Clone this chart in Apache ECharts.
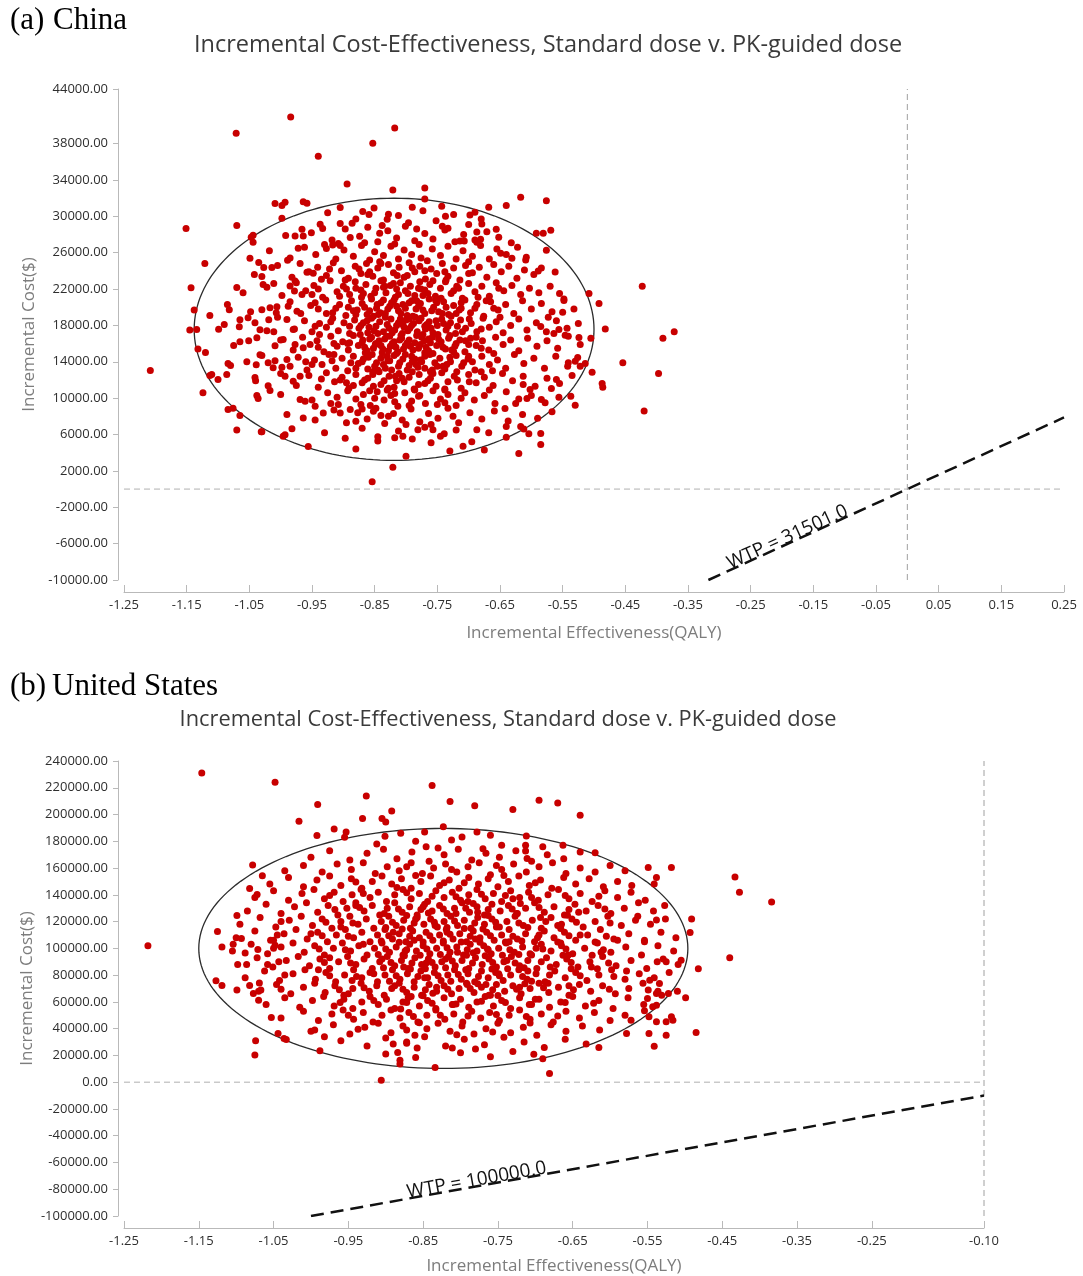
<!DOCTYPE html>
<html><head><meta charset="utf-8">
<script src="https://cdn.jsdelivr.net/npm/echarts@6/dist/echarts.min.js"></script>
<style>html,body{margin:0;padding:0;background:#fff}#c{width:1083px;height:1276px}</style>
</head><body><div id="c"></div>
<script>
const titleText = 'Incremental Cost-Effectiveness, Standard dose v. PK-guided dose';
const xName = 'Incremental Effectiveness(QALY)';
const yName = 'Incremental Cost($)';
const chinaXTicks = [-1.25,-1.15,-1.05,-0.95,-0.85,-0.75,-0.65,-0.55,-0.45,-0.35,-0.25,-0.15,-0.05,0.05,0.15,0.25];
const chinaYTicks = [-10000,-6000,-2000,2000,6000,10000,14000,18000,22000,26000,30000,34000,38000,44000];
const usXTicks = [-1.25,-1.15,-1.05,-0.95,-0.85,-0.75,-0.65,-0.55,-0.45,-0.35,-0.25,-0.10];
const usYTicks = [-100000,-80000,-60000,-40000,-20000,0,20000,40000,60000,80000,100000,120000,140000,160000,180000,200000,220000,240000];
const chinaWTP = 31501.0;
const usWTP = 100000.0;
const chinaEllipse = [-0.819, 17570, 0.319, 14420];
const usEllipse = [-0.823, 99920, 0.327, 89680];

const chinaPoints = [
[-1.208,13050],[-1.151,28660],[-1.143,22150],[-1.121,24800],[-1.071,39120],[-0.984,40910],[-0.940,36600],[-0.853,38030],[-0.818,39700],[-0.894,33560],[-0.770,33100],[-0.770,31900],[-0.821,32900],[-0.854,800],[-0.821,2400],[-0.423,22300],[-0.420,8600],[-0.397,12700],[-0.390,16600],[-0.372,17300],[-0.454,13900],[-0.482,17600],[-0.492,20400],[-0.508,21500],[-0.617,32100],[-0.576,31700],[-0.640,31200],[-0.668,31000],[-0.743,31100],[-0.585,4900],[-0.709,4700],[-0.730,4200],[-0.996,5800],[-1.031,6300],[-1.070,6500],[-1.076,8900],[-1.124,10600],[-1.113,12500],[-1.132,15400],[-1.138,19700],[-1.145,17500],[-1.070,29000],[-1.047,27700],[-0.998,31200],[-1.009,31400],[-0.964,31600],
[-0.993,31550],[-0.958,31440],[-0.998,29790],[-1.113,19090],[-1.134,17540],[-1.099,17590],[-1.120,15020],[-1.084,13810],[-1.086,12600],[-1.110,12600],[-1.100,12050],[-1.084,8740],[-1.065,8080],[-1.030,6310],[-0.993,5980],[-0.982,6640],[-0.956,4690],[-0.845,5760],[-0.818,5650],[-1.070,22180],[-1.049,25380],[-1.044,27150],[-1.044,27920],[-1.035,24930],[-1.027,24380],[-1.014,24380],[-1.030,23390],[-1.028,22510],[-1.011,22620],[-0.989,25160],[-1.082,19730],[-1.065,18630],[-1.066,17860],[-1.052,18850],[-1.041,18300],[-1.033,17530],[-1.038,16650],[-1.065,16210],[-1.051,16320],[-1.030,19730],[-1.017,19950],[-1.006,20060],[-1.007,19400],[-1.019,18630],[-1.022,17420],[-1.011,17310],[-1.009,15770],[-1.054,14010],[-1.039,13680],[-1.033,14780],[-1.020,13900],[-1.009,14120],[-1.012,13350],[-1.041,12270],[-1.038,10280],[-1.036,9950],[-1.020,11370],[-1.017,10830],
[-0.977,27840],[-0.964,27840],[-0.966,28580],[-0.972,26480],[-0.937,29130],[-0.933,28650],[-0.905,30970],[-0.886,29240],[-0.889,27660],[-0.869,30530],[-0.859,30200],[-0.842,28130],[-0.828,30230],[-0.830,29680],[-0.927,26450],[-0.917,26840],[-0.948,23730],[-0.958,23840],[-0.935,23070],[-0.977,22880],[-0.985,22330],[-0.978,21780],[-0.966,21410],[-0.988,20120],[-0.974,19570],[-0.990,18660],[-0.980,17560],[-0.996,16450],[-0.977,15900],[-0.964,15540],[-0.990,14250],[-0.985,13510],[-0.993,12410],[-0.980,11860],[-0.969,12410],[-0.969,9840],[-0.961,9650],[-0.964,7820],[-0.945,9100],[-0.932,8380],[-0.920,9400],[-0.905,8380],[-0.889,8740],[-0.880,7450],[-0.852,8550],[-0.828,8000],
[-0.573,18900],[-0.585,17890],[-0.564,17110],[-0.556,17550],[-0.546,16930],[-0.524,16670],[-0.550,19460],[-0.548,20750],[-0.514,13810],[-0.503,12850],[-0.487,11600],[-0.486,11200],[-0.526,14470],[-0.542,13510],[-0.530,14060],[-0.537,10200],[-0.530,9210],[-0.604,6090],[-0.617,6870],[-0.640,6870],[-0.625,9400],[-0.642,8850],[-0.687,6530],[-0.739,6090],[-0.757,6530],[-0.781,6530],[-0.805,5800],[-0.584,9840],[-0.568,11050],[-0.560,12050],[-0.602,10940],[-0.613,11490],[-0.607,9950],[-0.649,25930],[-0.631,25380],[-0.609,25190],[-0.589,23980],[-0.562,23870],[-0.576,26260],[-0.592,28130],[-0.581,28130],[-0.569,28460],[-0.714,27290],[-0.707,27290],[-0.687,27140],[-0.681,27470],[-0.679,29160],[-0.687,28280],[-0.656,28580],[-0.737,30010],[-0.733,28690],[-0.698,30150],[-0.690,30450],
[-0.925,30400],[-0.880,29700],[-0.851,30900],[-0.812,30100],[-0.796,29300],[-0.773,30600],[-0.752,29500],[-0.724,30200],[-0.700,29100],[-0.680,29700],[-0.905,29200],[-0.838,29000],[-0.790,31000],[-0.742,28900],
[-0.992,27900],[-0.951,28200],[-0.918,27400],[-0.897,28600],[-0.874,27800],[-0.861,28800],[-0.845,27200],[-0.829,28400],[-0.815,27600],[-0.801,28900],[-0.786,27300],[-0.770,28100],[-0.757,27500],[-0.738,28500],[-0.722,27200],[-0.708,28000],[-0.690,27400],[-0.671,28300],[-0.652,27700],[-0.632,27100],[-0.908,27000],[-0.783,28600],[-0.866,27100],
[-1.018,26200],[-0.985,25400],[-0.962,26600],[-0.944,25800],[-0.930,26900],[-0.912,25300],[-0.899,26300],[-0.884,25600],[-0.871,26800],[-0.858,25200],[-0.850,26100],[-0.836,25700],[-0.824,26700],[-0.812,25300],[-0.803,26300],[-0.791,25800],[-0.779,26900],[-0.766,25100],[-0.758,26400],[-0.745,25700],[-0.733,26700],[-0.720,25300],[-0.709,26200],[-0.694,25600],[-0.681,26800],[-0.667,25300],[-0.655,26400],[-0.640,25800],[-0.622,26600],[-0.608,25500],[-0.842,25000],[-0.818,26950],[-0.776,25400],[-0.905,26800],[-0.700,25000],
[-1.042,23600],[-1.005,24600],[-0.982,23300],[-0.969,24800],[-0.955,23900],[-0.941,24400],[-0.927,23500],[-0.916,24900],[-0.903,24000],[-0.892,23200],[-0.881,24500],[-0.872,23700],[-0.863,24800],[-0.853,23400],[-0.845,24300],[-0.836,23000],[-0.828,24700],[-0.820,23800],[-0.811,24400],[-0.803,23300],[-0.795,24900],[-0.786,23900],[-0.778,24500],[-0.769,23100],[-0.760,24200],[-0.751,23700],[-0.742,24800],[-0.733,23400],[-0.724,24300],[-0.714,23000],[-0.705,24600],[-0.694,23800],[-0.683,24400],[-0.671,23300],[-0.660,24700],[-0.648,23900],[-0.636,24500],[-0.623,23200],[-0.611,24100],[-0.596,23600],[-0.584,24300],[-0.858,23900],[-0.814,23500],[-0.790,24300],[-0.738,23900],[-0.875,24200],[-0.922,24200],[-0.700,23700],[-0.770,24000],[-0.840,24800],
[-1.060,21600],[-1.022,22200],[-0.998,21300],[-0.975,22700],[-0.960,21800],[-0.947,22400],[-0.933,21100],[-0.921,22900],[-0.910,21700],[-0.900,22300],[-0.890,21400],[-0.881,22800],[-0.872,21900],[-0.864,22500],[-0.856,21200],[-0.848,22100],[-0.840,22900],[-0.832,21600],[-0.825,22400],[-0.817,21100],[-0.809,22700],[-0.801,21800],[-0.793,22300],[-0.786,21300],[-0.778,22800],[-0.770,21900],[-0.762,22500],[-0.753,21200],[-0.745,22100],[-0.737,22800],[-0.728,21500],[-0.719,22300],[-0.710,21000],[-0.700,22600],[-0.690,21700],[-0.679,22300],[-0.667,21200],[-0.656,22700],[-0.644,21800],[-0.631,22400],[-0.617,21400],[-0.603,22100],[-0.588,21600],[-0.570,22300],[-0.555,21500],[-0.868,21500],[-0.836,22200],[-0.797,21500],[-0.757,22900],[-0.724,21800],[-0.850,21600],[-0.815,22000],[-0.780,22100],[-0.940,22000],[-0.895,22000],[-0.685,21100],[-0.652,22100],[-0.765,21500],[-0.820,22600],[-0.880,22100],
[-1.085,20300],[-1.048,19500],[-0.985,20600],[-0.968,19300],[-0.952,20200],[-0.940,19800],[-0.928,20800],[-0.917,19400],[-0.906,20300],[-0.896,19100],[-0.887,20700],[-0.878,19700],[-0.870,20400],[-0.862,19200],[-0.855,20900],[-0.847,19900],[-0.840,20500],[-0.833,19300],[-0.826,20100],[-0.819,20800],[-0.812,19600],[-0.805,20300],[-0.798,19100],[-0.791,20700],[-0.784,19800],[-0.777,20400],[-0.770,19300],[-0.763,20900],[-0.756,20000],[-0.748,19500],[-0.740,20600],[-0.732,19200],[-0.724,20200],[-0.715,19700],[-0.706,20800],[-0.697,19400],[-0.687,20300],[-0.676,19000],[-0.665,20600],[-0.653,19700],[-0.641,20300],[-0.628,19300],[-0.614,20700],[-0.600,19800],[-0.584,20400],[-0.567,19500],[-0.548,20900],[-0.532,19800],[-0.866,20000],[-0.844,19200],[-0.823,20500],[-0.801,19900],[-0.780,20100],[-0.759,19600],[-0.736,20000],[-0.712,20500],[-0.690,19900],[-0.858,19600],[-0.815,20100],[-0.795,20500],[-0.773,19700],[-0.751,20500],[-0.829,19800],[-0.892,20000],[-0.912,19900],[-0.945,20500],[-0.880,19200],[-0.660,19900],[-0.720,19300],[-0.808,19300],
[-1.090,18100],[-1.005,18900],[-0.978,17600],[-0.962,18500],[-0.950,17300],[-0.938,18200],[-0.927,17800],[-0.917,18800],[-0.908,17400],[-0.899,18300],[-0.890,17100],[-0.882,18600],[-0.875,17700],[-0.868,18300],[-0.861,17200],[-0.855,18800],[-0.848,17900],[-0.842,18400],[-0.836,17300],[-0.830,18100],[-0.824,18700],[-0.818,17500],[-0.812,18300],[-0.806,17100],[-0.800,18600],[-0.794,17700],[-0.788,18200],[-0.782,17300],[-0.776,18800],[-0.770,17900],[-0.763,18400],[-0.757,17200],[-0.750,18000],[-0.743,18700],[-0.736,17500],[-0.729,18300],[-0.721,17100],[-0.713,18600],[-0.705,17700],[-0.696,18200],[-0.687,17300],[-0.677,18800],[-0.667,17800],[-0.656,18400],[-0.645,17200],[-0.633,18000],[-0.620,18700],[-0.607,17500],[-0.592,18300],[-0.576,17300],[-0.560,18500],[-0.543,17700],[-0.525,18200],[-0.872,18000],[-0.851,17400],[-0.833,18900],[-0.815,18000],[-0.797,17400],[-0.779,18500],[-0.760,17700],[-0.740,18200],[-0.718,17900],[-0.699,18700],[-0.680,17600],[-0.862,18500],[-0.845,17100],[-0.827,17700],[-0.809,18700],[-0.791,18000],[-0.773,17000],[-0.752,18500],[-0.733,17900],[-0.710,17300],[-0.890,17900],[-0.920,18400],[-0.945,17900],[-0.822,17200],[-0.785,18900],[-0.767,18100],[-0.803,17800],
[-1.075,15800],[-1.000,16400],[-0.980,15300],[-0.965,16700],[-0.953,15900],[-0.942,16300],[-0.931,15100],[-0.920,16800],[-0.910,15700],[-0.901,16200],[-0.892,15300],[-0.884,16900],[-0.876,15800],[-0.869,16400],[-0.862,15200],[-0.855,16700],[-0.849,15900],[-0.843,16300],[-0.837,15400],[-0.831,16800],[-0.825,15700],[-0.819,16200],[-0.813,15100],[-0.807,16600],[-0.801,15800],[-0.795,16400],[-0.789,15300],[-0.783,16900],[-0.777,15900],[-0.771,16300],[-0.764,15200],[-0.758,16700],[-0.751,15800],[-0.744,16200],[-0.737,15400],[-0.730,16900],[-0.722,15700],[-0.714,16400],[-0.706,15100],[-0.697,16600],[-0.688,15800],[-0.678,16300],[-0.668,15300],[-0.657,16700],[-0.645,15900],[-0.633,16400],[-0.620,15200],[-0.606,16600],[-0.591,15700],[-0.575,16300],[-0.558,15500],[-0.541,16800],[-0.522,15900],[-0.505,16600],[-0.870,16100],[-0.852,15500],[-0.834,16500],[-0.816,15600],[-0.798,16100],[-0.780,15500],[-0.761,16100],[-0.741,15600],[-0.720,16000],[-0.700,15900],[-0.858,16500],[-0.840,15800],[-0.822,16000],[-0.804,15400],[-0.786,16100],[-0.768,15600],[-0.748,16500],[-0.727,15300],[-0.890,16100],[-0.915,16000],[-0.940,15600],[-0.680,15500],[-0.808,16900],[-0.775,16700],[-0.828,15200],[-0.865,15000],
[-1.080,13600],[-1.030,14700],[-0.998,13400],[-0.972,14500],[-0.958,13100],[-0.946,14200],[-0.934,13700],[-0.923,14800],[-0.912,13300],[-0.902,14400],[-0.893,13000],[-0.884,14600],[-0.876,13800],[-0.868,14300],[-0.861,13200],[-0.854,14800],[-0.847,13900],[-0.840,14400],[-0.833,13300],[-0.826,14100],[-0.819,14700],[-0.812,13500],[-0.805,14300],[-0.798,13100],[-0.791,14600],[-0.784,13700],[-0.777,14200],[-0.770,13300],[-0.762,14800],[-0.754,13900],[-0.746,14400],[-0.738,13200],[-0.729,14000],[-0.720,14700],[-0.711,13500],[-0.701,14300],[-0.690,13100],[-0.679,14600],[-0.667,13700],[-0.654,14200],[-0.641,13300],[-0.627,14800],[-0.612,13800],[-0.596,14400],[-0.579,13300],[-0.561,14600],[-0.541,13900],[-0.522,13500],[-0.870,14000],[-0.850,13500],[-0.830,14600],[-0.810,13900],[-0.790,14000],[-0.770,14600],[-0.750,13500],[-0.730,14500],[-0.708,13900],[-0.860,14500],[-0.836,13700],[-0.815,14900],[-0.795,13600],[-0.775,14000],[-0.758,13100],[-0.735,13700],[-0.888,13900],[-0.918,14100],[-0.950,13700],[-0.694,14000],[-0.660,14900],[-0.845,13100],
[-1.040,11900],[-1.000,12700],[-0.975,11400],[-0.955,12500],[-0.940,11200],[-0.927,12800],[-0.914,11800],[-0.902,12300],[-0.891,11100],[-0.880,12600],[-0.870,11700],[-0.861,12200],[-0.852,11300],[-0.843,12900],[-0.835,11900],[-0.827,12400],[-0.819,11200],[-0.811,12700],[-0.803,11800],[-0.795,12300],[-0.787,11000],[-0.779,12600],[-0.770,11600],[-0.761,12200],[-0.752,11300],[-0.743,12800],[-0.733,11800],[-0.723,12400],[-0.712,11100],[-0.700,12600],[-0.688,11700],[-0.675,12300],[-0.661,11400],[-0.646,12700],[-0.630,11900],[-0.613,12400],[-0.594,11300],[-0.575,12200],[-0.555,11600],[-0.535,12500],[-0.866,12000],[-0.840,11500],[-0.815,11900],[-0.790,12900],[-0.765,11900],[-0.738,11000],[-0.718,12000],[-0.680,12900],[-0.853,12600],[-0.828,11100],[-0.806,12200],[-0.780,11500],[-0.757,12700],[-0.895,11700],[-0.935,12100],
[-1.000,10400],[-0.950,9800],[-0.925,10600],[-0.908,9300],[-0.893,10800],[-0.880,9900],[-0.868,10400],[-0.857,9200],[-0.846,10700],[-0.835,9800],[-0.824,10300],[-0.813,9100],[-0.802,10600],[-0.791,9700],[-0.780,10200],[-0.769,9400],[-0.757,10800],[-0.745,9900],[-0.733,10400],[-0.720,9200],[-0.706,10600],[-0.691,9800],[-0.675,10300],[-0.658,9400],[-0.640,10700],[-0.620,9900],[-0.600,10300],[-0.578,9500],[-0.556,10100],[-0.850,10000],[-0.818,9600],[-0.786,10900],[-0.750,9300],[-0.712,10000],[-0.667,10900],[-0.872,9300],[-0.830,10900],[-0.795,9200],[-0.738,9500],[-0.910,10100],
[-0.990,8200],[-0.945,7600],[-0.915,8700],[-0.895,7300],[-0.877,8400],[-0.862,7700],[-0.848,8900],[-0.834,7200],[-0.820,8300],[-0.806,7600],[-0.792,8800],[-0.778,7400],[-0.764,8300],[-0.749,7800],[-0.733,8900],[-0.716,7300],[-0.698,8400],[-0.679,7700],[-0.659,8600],[-0.637,7500],[-0.614,8200],[-0.590,7800],[-0.567,8500],[-0.840,8100],[-0.800,7100],[-0.760,7100],[-0.725,8000],[-0.870,8800],
[-0.930,6200],[-0.897,5600],[-0.870,6700],[-0.845,5300],[-0.812,6400],[-0.790,5500],[-0.770,6800],[-0.745,5800],[-0.720,6500],[-0.695,5200],[-0.668,6200],[-0.640,5700],[-0.612,6600],[-0.585,6100],[-0.760,5100],
[-0.880,4400],[-0.800,3600],[-0.675,4300],[-0.620,3900],
[-0.884,19600],[-0.871,21100],[-0.859,17800],[-0.846,20300],[-0.834,22300],[-0.826,16800],[-0.812,21400],[-0.801,14800],[-0.789,19000],[-0.776,22000],[-0.764,16500],[-0.753,20800],[-0.741,13500],[-0.728,19000],[-0.716,22100],[-0.893,16000],[-0.880,13300],[-0.866,15600],[-0.853,12900],[-0.841,19400],[-0.829,14100],[-0.817,12400],[-0.805,18100],[-0.793,15700],[-0.781,13400],[-0.769,17600],[-0.757,14900],[-0.744,21000],[-0.732,16600],[-0.719,12900],[-0.906,21200],[-0.897,23000],[-0.884,11400],[-0.873,17000],[-0.861,23600],[-0.848,16000],[-0.836,20800],[-0.823,13100],[-0.810,16400],[-0.798,23500],[-0.786,14300],[-0.773,21300],[-0.761,12900],[-0.749,17000],[-0.736,23000],[-0.724,15100],[-0.712,19900],[-0.700,14600],[-0.915,14800],[-0.927,19300],[-0.905,12000],[-0.858,10800],[-0.818,10500],[-0.778,10300],[-0.738,10900],[-0.699,11800],[-0.688,16700],[-0.672,20700],[-0.662,13000],[-0.650,18900],[-0.938,17000],[-0.950,21400],[-0.960,14000],[-0.852,19000],[-0.838,15000],[-0.795,18700],[-0.783,20700],[-0.770,15000],[-0.742,19300],[-0.705,16300]
];

const usPoints = [
[-1.146,231100],[-1.048,224200],[-0.991,207500],[-1.016,195000],[-0.926,213900],[-0.838,221700],[-0.814,209800],[-0.931,197100],[-0.905,197100],[-0.900,194500],[-0.892,202700],[-0.969,189100],[-0.953,187000],[-0.992,184400],[-0.901,183800],[-0.848,187000],[-0.823,190800],[-1.078,162200],[-1.065,154200],[-1.082,144700],[-1.072,140300],[-1.099,124600],[-1.125,112600],[-1.218,101900],[-1.119,101100],[-1.104,103100],[-1.093,107400],[-1.127,75700],[-1.119,72300],[-1.099,68800],[-1.088,96600],[-1.086,88000],[-1.071,99200],[-1.058,88000],[-1.050,106100],[-1.048,102400],[-1.053,48300],[-1.074,30900],[-1.075,20400],[-0.988,23400],[-0.906,1500],[-0.881,13500],[-0.881,16400],[-0.834,11000],[-0.811,25600],
[-0.781,206500],[-0.730,203800],[-0.695,210700],[-0.670,208700],[-0.640,199500],[-0.760,184600],[-0.798,183300],[-0.713,177100],[-0.713,172800],[-0.711,167200],[-0.663,177100],[-0.620,171400],[-0.549,160400],[-0.518,160400],[-0.538,153000],[-0.541,148000],[-0.433,153400],[-0.427,142000],[-0.384,134700],[-0.440,92900],[-0.491,122000],[-0.493,111900],[-0.505,91200],[-0.482,84700],[-0.510,68000],[-0.499,63000],[-0.485,37100],[-0.518,48800],[-0.525,45100],[-0.538,45100],[-0.548,36400],[-0.525,35100],[-0.548,48800],[-0.572,46300],[-0.578,36400],[-0.615,25900],[-0.681,6500],[-0.702,20900],[-0.563,124000],[-0.538,121100],[-0.541,26900],
[-1.082,72300],[-1.077,66300],[-1.069,74200],[-1.067,68800],[-1.070,61300],[-1.044,36400],[-1.036,32700],[-1.033,31900],[-0.995,38900],[-0.982,33900],[-0.884,22200],[-0.872,30100],[-0.554,106100],[-0.537,89900],[-0.525,89900],[-0.547,76200],[-0.534,73800],[-0.538,66300],[-0.531,65000],[-0.549,68800],[-0.550,62500],[-0.554,53300],[-0.543,56300],[-0.538,57500],[-0.516,46300],[-0.522,66300],
[-0.955,183000],[-0.912,178000],[-0.880,186000],[-0.846,176000],[-0.812,181000],[-0.778,187000],[-0.745,177000],[-0.712,184000],[-0.690,176000],[-0.860,180000],
[-1.000,168000],[-0.975,173000],[-0.948,166000],[-0.925,171000],[-0.903,174000],[-0.885,167000],[-0.865,172000],[-0.842,165000],[-0.822,170000],[-0.803,174000],[-0.785,166000],[-0.766,171000],[-0.748,168000],[-0.726,173000],[-0.705,165000],[-0.684,170000],[-0.662,167000],[-0.640,172000],[-0.830,175000],[-0.770,174500],
[-1.035,158000],[-1.010,162000],[-0.985,157000],[-0.965,163000],[-0.946,159000],[-0.930,164000],[-0.914,156000],[-0.898,161000],[-0.882,158000],[-0.866,164000],[-0.851,156000],[-0.836,160000],[-0.820,163000],[-0.805,157000],[-0.790,161000],[-0.775,164000],[-0.760,155000],[-0.745,159000],[-0.729,163000],[-0.712,157000],[-0.695,161000],[-0.677,164000],[-0.659,156000],[-0.640,160000],[-0.620,157000],[-0.600,162000],[-0.580,158000],[-0.872,161000],[-0.812,159000],[-0.752,162000],
[-1.055,148000],[-1.030,153000],[-1.010,146000],[-0.992,151000],[-0.975,154000],[-0.960,147000],[-0.946,152000],[-0.932,145000],[-0.918,150000],[-0.905,154000],[-0.892,148000],[-0.879,152000],[-0.866,145000],[-0.853,150000],[-0.840,154000],[-0.828,147000],[-0.815,151000],[-0.802,145000],[-0.789,153000],[-0.776,148000],[-0.763,152000],[-0.750,146000],[-0.736,150000],[-0.722,154000],[-0.708,147000],[-0.693,151000],[-0.678,145000],[-0.662,153000],[-0.646,148000],[-0.628,152000],[-0.609,146000],[-0.590,150000],[-0.571,147000],[-0.885,145500],[-0.860,154500],[-0.822,149000],[-0.795,149000],[-0.742,154500],[-0.700,149000],[-0.940,149500],
[-1.075,138000],[-1.050,143000],[-1.030,136000],[-1.012,141000],[-0.996,144000],[-0.982,137000],[-0.969,142000],[-0.957,135000],[-0.945,140000],[-0.933,144000],[-0.921,138000],[-0.910,142000],[-0.899,135000],[-0.888,140000],[-0.877,144000],[-0.866,137000],[-0.855,141000],[-0.844,135000],[-0.833,143000],[-0.822,138000],[-0.811,142000],[-0.800,136000],[-0.789,140000],[-0.778,144000],[-0.767,137000],[-0.756,141000],[-0.745,135000],[-0.733,143000],[-0.721,138000],[-0.709,142000],[-0.696,136000],[-0.683,140000],[-0.669,144000],[-0.655,137000],[-0.640,141000],[-0.624,135000],[-0.607,143000],[-0.590,138000],[-0.572,142000],[-0.553,136000],[-0.872,141500],[-0.838,139000],[-0.806,138500],[-0.772,140500],[-0.740,139500],[-0.705,138000],[-0.660,139500],[-0.930,141000],[-0.975,139500],[-0.615,139000],
[-1.085,128000],[-1.060,133000],[-1.040,126000],[-1.022,131000],[-1.006,134000],[-0.991,127000],[-0.977,132000],[-0.964,125000],[-0.952,130000],[-0.940,134000],[-0.929,128000],[-0.918,132000],[-0.908,125000],[-0.898,130000],[-0.888,134000],[-0.878,127000],[-0.868,131000],[-0.858,125000],[-0.848,133000],[-0.838,128000],[-0.828,132000],[-0.818,126000],[-0.808,130000],[-0.798,134000],[-0.788,127000],[-0.778,131000],[-0.768,125000],[-0.758,133000],[-0.747,128000],[-0.736,132000],[-0.725,126000],[-0.713,130000],[-0.701,134000],[-0.688,127000],[-0.675,131000],[-0.661,125000],[-0.647,133000],[-0.632,128000],[-0.616,132000],[-0.599,126000],[-0.581,130000],[-0.562,134000],[-0.542,128000],[-0.527,132000],[-0.883,129500],[-0.853,129000],[-0.823,129500],[-0.793,130000],[-0.763,129000],[-0.731,129500],[-0.695,130500],[-0.655,129000],[-0.935,130500],[-0.968,129000],[-0.843,126500],[-0.783,133500],[-0.720,133500],[-0.607,129500],
[-1.095,118000],[-1.068,123000],[-1.047,116000],[-1.029,121000],[-1.013,124000],[-0.998,117000],[-0.985,122000],[-0.972,115000],[-0.960,120000],[-0.948,124000],[-0.937,118000],[-0.926,122000],[-0.916,115000],[-0.906,120000],[-0.896,124000],[-0.886,117000],[-0.876,121000],[-0.867,115000],[-0.858,123000],[-0.849,118000],[-0.840,122000],[-0.831,116000],[-0.822,120000],[-0.813,124000],[-0.804,117000],[-0.795,121000],[-0.786,115000],[-0.777,123000],[-0.768,118000],[-0.758,122000],[-0.748,116000],[-0.738,120000],[-0.727,124000],[-0.716,117000],[-0.704,121000],[-0.692,115000],[-0.679,123000],[-0.665,118000],[-0.651,122000],[-0.636,116000],[-0.620,120000],[-0.603,124000],[-0.585,117000],[-0.566,121000],[-0.546,118000],[-0.526,122000],[-0.891,119500],[-0.862,119000],[-0.835,119500],[-0.808,120500],[-0.781,119000],[-0.753,119500],[-0.722,119000],[-0.686,120000],[-0.645,119500],[-0.600,119000],[-0.944,119000],[-0.980,119500],[-1.040,120000],[-0.872,124500],[-0.818,115500],[-0.763,124500],[-0.710,115500],[-0.657,124800],[-0.900,115500],
[-1.100,108000],[-1.075,113000],[-1.054,106000],[-1.036,111000],[-1.020,114000],[-1.005,107000],[-0.991,112000],[-0.978,105000],[-0.966,110000],[-0.954,114000],[-0.943,108000],[-0.932,112000],[-0.921,105000],[-0.911,110000],[-0.901,114000],[-0.891,107000],[-0.882,111000],[-0.873,105000],[-0.864,113000],[-0.855,108000],[-0.846,112000],[-0.837,106000],[-0.828,110000],[-0.819,114000],[-0.810,107000],[-0.801,111000],[-0.792,105000],[-0.783,113000],[-0.774,108000],[-0.765,112000],[-0.755,106000],[-0.745,110000],[-0.735,114000],[-0.724,107000],[-0.713,111000],[-0.701,105000],[-0.688,113000],[-0.675,108000],[-0.661,112000],[-0.646,106000],[-0.630,110000],[-0.613,114000],[-0.595,107000],[-0.575,111000],[-0.554,105000],[-0.532,112000],[-0.512,108000],[-0.896,109500],[-0.868,109000],[-0.841,109500],[-0.814,110500],[-0.787,109000],[-0.760,109500],[-0.730,109000],[-0.695,110000],[-0.655,109500],[-0.605,109000],[-0.950,109000],[-0.985,109500],[-1.045,110000],[-0.878,114500],[-0.823,105500],[-0.770,114500],[-0.718,105500],[-0.666,114800],[-0.906,105500],[-0.850,104800],[-0.795,114800],[-0.740,104800],[-0.620,104800],
[-1.105,98000],[-1.080,103000],[-1.058,96000],[-1.040,101000],[-1.024,104000],[-1.009,97000],[-0.995,102000],[-0.982,95000],[-0.970,100000],[-0.958,104000],[-0.947,98000],[-0.936,102000],[-0.925,95000],[-0.915,100000],[-0.905,104000],[-0.895,97000],[-0.886,101000],[-0.877,95000],[-0.868,103000],[-0.859,98000],[-0.850,102000],[-0.841,96000],[-0.832,100000],[-0.823,104000],[-0.814,97000],[-0.805,101000],[-0.796,95000],[-0.787,103000],[-0.778,98000],[-0.769,102000],[-0.759,96000],[-0.749,100000],[-0.739,104000],[-0.728,97000],[-0.717,101000],[-0.705,95000],[-0.692,103000],[-0.679,98000],[-0.665,102000],[-0.650,96000],[-0.634,100000],[-0.617,104000],[-0.599,97000],[-0.579,101000],[-0.558,95000],[-0.536,102000],[-0.515,98000],[-0.900,99500],[-0.872,99000],[-0.845,99500],[-0.818,100500],[-0.791,99000],[-0.764,99500],[-0.734,99000],[-0.699,100000],[-0.659,99500],[-0.609,99000],[-0.954,99000],[-0.989,99500],[-1.050,100000],[-0.882,104500],[-0.827,95500],[-0.774,104500],[-0.722,95500],[-0.670,104800],[-0.910,95500],[-0.854,94800],[-0.799,104800],[-0.744,94800],[-0.624,94800],[-0.690,99500],[-0.783,96800],
[-1.098,88000],[-1.072,93000],[-1.051,86000],[-1.033,91000],[-1.017,94000],[-1.002,87000],[-0.988,92000],[-0.975,85000],[-0.963,90000],[-0.951,94000],[-0.940,88000],[-0.929,92000],[-0.918,85000],[-0.908,90000],[-0.898,94000],[-0.888,87000],[-0.879,91000],[-0.870,85000],[-0.861,93000],[-0.852,88000],[-0.843,92000],[-0.834,86000],[-0.825,90000],[-0.816,94000],[-0.807,87000],[-0.798,91000],[-0.789,85000],[-0.780,93000],[-0.771,88000],[-0.762,92000],[-0.752,86000],[-0.742,90000],[-0.732,94000],[-0.721,87000],[-0.710,91000],[-0.698,85000],[-0.685,93000],[-0.672,88000],[-0.658,92000],[-0.643,86000],[-0.627,90000],[-0.610,94000],[-0.592,87000],[-0.572,91000],[-0.551,85000],[-0.529,92000],[-0.509,88000],[-0.893,89500],[-0.865,89000],[-0.838,89500],[-0.811,90500],[-0.784,89000],[-0.757,89500],[-0.727,89000],[-0.692,90000],[-0.652,89500],[-0.602,89000],[-0.947,89000],[-0.982,89500],[-1.043,90000],[-0.875,94500],[-0.820,85500],[-0.767,94500],[-0.715,85500],[-0.663,94800],[-0.903,85500],[-0.847,84800],[-0.792,94800],[-0.737,84800],[-0.617,84800],
[-1.088,78000],[-1.062,83000],[-1.042,76000],[-1.024,81000],[-1.008,84000],[-0.994,77000],[-0.980,82000],[-0.967,75000],[-0.955,80000],[-0.943,84000],[-0.932,78000],[-0.921,82000],[-0.911,75000],[-0.901,80000],[-0.891,84000],[-0.881,77000],[-0.871,81000],[-0.862,75000],[-0.853,83000],[-0.844,78000],[-0.835,82000],[-0.826,76000],[-0.817,80000],[-0.808,84000],[-0.799,77000],[-0.790,81000],[-0.781,75000],[-0.772,83000],[-0.763,78000],[-0.753,82000],[-0.743,76000],[-0.733,80000],[-0.722,84000],[-0.711,77000],[-0.699,81000],[-0.687,75000],[-0.674,83000],[-0.660,78000],[-0.646,82000],[-0.631,76000],[-0.615,80000],[-0.598,84000],[-0.580,77000],[-0.561,81000],[-0.541,78000],[-0.521,82000],[-0.886,79500],[-0.857,79000],[-0.830,79500],[-0.803,80500],[-0.776,79000],[-0.748,79500],[-0.717,79000],[-0.681,80000],[-0.640,79500],[-0.595,79000],[-0.939,79000],[-0.975,79500],[-1.035,80000],[-0.867,84500],[-0.813,75500],[-0.758,84500],[-0.705,75500],[-0.652,84800],[-0.895,75500],
[-1.070,68000],[-1.046,73000],[-1.027,66000],[-1.010,71000],[-0.995,74000],[-0.981,67000],[-0.968,72000],[-0.956,65000],[-0.944,70000],[-0.933,74000],[-0.922,68000],[-0.912,72000],[-0.902,65000],[-0.892,70000],[-0.882,74000],[-0.872,67000],[-0.862,71000],[-0.852,65000],[-0.842,73000],[-0.832,68000],[-0.822,72000],[-0.812,66000],[-0.802,70000],[-0.792,74000],[-0.782,67000],[-0.772,71000],[-0.762,65000],[-0.752,73000],[-0.741,68000],[-0.730,72000],[-0.719,66000],[-0.707,70000],[-0.695,74000],[-0.682,67000],[-0.669,71000],[-0.655,65000],[-0.641,73000],[-0.626,68000],[-0.610,72000],[-0.593,66000],[-0.575,70000],[-0.556,74000],[-0.536,68000],[-0.877,69500],[-0.847,69000],[-0.817,69500],[-0.787,70000],[-0.757,69000],[-0.725,69500],[-0.689,70500],[-0.649,69000],[-0.929,70500],[-0.962,69000],[-0.837,66500],[-0.777,73500],[-0.714,73500],[-0.601,69500],[-1.040,69500],
[-1.060,58000],[-1.035,63000],[-1.015,56000],[-0.998,61000],[-0.983,64000],[-0.969,57000],[-0.956,62000],[-0.944,55000],[-0.932,60000],[-0.921,64000],[-0.910,58000],[-0.899,62000],[-0.888,55000],[-0.877,60000],[-0.866,64000],[-0.855,57000],[-0.844,61000],[-0.833,55000],[-0.822,63000],[-0.811,58000],[-0.800,62000],[-0.789,56000],[-0.778,60000],[-0.767,64000],[-0.756,57000],[-0.745,61000],[-0.733,55000],[-0.721,63000],[-0.708,58000],[-0.695,62000],[-0.681,56000],[-0.666,60000],[-0.650,64000],[-0.633,57000],[-0.615,61000],[-0.596,55000],[-0.576,63000],[-0.555,58000],[-0.872,59500],[-0.838,59000],[-0.806,58500],[-0.772,60500],[-0.740,59500],[-0.705,58000],[-0.660,59500],[-0.916,61000],[-0.961,59500],[-0.622,59000],[-0.750,64800],[-0.850,64600],
[-1.040,48000],[-1.010,53000],[-0.990,46000],[-0.972,51000],[-0.957,54000],[-0.943,47000],[-0.930,52000],[-0.917,45000],[-0.905,50000],[-0.893,54000],[-0.881,48000],[-0.869,52000],[-0.857,45000],[-0.845,50000],[-0.833,54000],[-0.821,47000],[-0.809,51000],[-0.797,45000],[-0.785,53000],[-0.773,48000],[-0.761,52000],[-0.748,46000],[-0.735,50000],[-0.721,54000],[-0.707,47000],[-0.692,51000],[-0.676,45000],[-0.659,53000],[-0.641,48000],[-0.621,52000],[-0.600,46000],[-0.580,50000],[-0.863,49000],[-0.827,50000],[-0.790,49500],[-0.752,50500],[-0.712,49000],[-0.950,50000],[-0.670,49500],[-0.880,54700],
[-1.000,38000],[-0.970,43000],[-0.948,36000],[-0.928,41000],[-0.910,44000],[-0.893,37000],[-0.877,42000],[-0.861,35000],[-0.845,40000],[-0.830,44000],[-0.814,38000],[-0.798,42000],[-0.782,36000],[-0.766,40000],[-0.750,44000],[-0.733,37000],[-0.716,41000],[-0.698,35000],[-0.679,43000],[-0.659,38000],[-0.637,42000],[-0.614,39000],[-0.855,44500],[-0.805,35500],[-0.757,37500],[-0.707,44300],[-0.937,39500],[-0.872,39000],
[-0.960,31000],[-0.925,27000],[-0.900,33000],[-0.872,29000],[-0.848,34000],[-0.820,27000],[-0.795,32000],[-0.768,28000],[-0.742,33500],[-0.715,30000],[-0.688,26000],[-0.660,32000],[-0.632,28500],[-0.858,25500],[-0.780,24800],[-0.890,28500],
[-0.900,21000],[-0.860,18500],[-0.800,22000],[-0.760,19000],[-0.730,23000],[-0.690,17500],
[-0.905,92000],[-0.890,112000],[-0.876,86000],[-0.862,106000],[-0.848,78000],[-0.834,117000],[-0.820,92000],[-0.806,126000],[-0.793,84000],[-0.780,107000],[-0.766,73000],[-0.752,116000],[-0.738,91000],[-0.724,126000],[-0.710,83000],[-0.697,108000],[-0.683,74000],[-0.670,117000],[-0.656,95000],[-0.642,127000],[-0.930,103000],[-0.916,81000],[-0.902,126000],[-0.888,72000],[-0.874,98000],[-0.860,122000],[-0.846,89000],[-0.832,71000],[-0.818,112000],[-0.804,97000],[-0.791,73000],[-0.777,127000],[-0.763,99000],[-0.749,81000],[-0.735,105000],[-0.721,71000],[-0.707,96000],[-0.693,123000],[-0.680,86000],[-0.666,104000],[-0.960,116000],[-0.945,76000],[-0.975,93000],[-0.990,84000],[-1.000,111000],[-0.640,110000],[-0.625,86000],[-0.612,97000],[-0.590,106000],[-0.578,83000],[-0.850,131000],[-0.790,135000],[-0.730,137000],[-0.870,63000],[-0.810,58000],[-0.760,65000],[-0.700,62000],[-0.940,132000],[-0.950,66000],[-0.655,72000]
];

const FONT = '"Open Sans", "Noto Sans", sans-serif';
const SERIF = '"Liberation Serif", "DejaVu Serif", serif';
const AXIS_COLOR = '#b9b9b9';
const LABEL_COLOR = '#2e2e2e';
const NAME_COLOR = '#7d7d7d';
const DOT_COLOR = '#c80000';

const chart = echarts.init(document.getElementById('c'), null, {renderer: 'canvas'});

function xAxisCfg(gi, min, max, ticks, gap) {
  return {
    gridIndex: gi, type: 'value', min: min, max: max, offset: 12,
    axisLine: {show: true, onZero: false, lineStyle: {color: AXIS_COLOR, width: 1}},
    axisTick: {show: true, inside: true, length: 7, customValues: ticks, lineStyle: {color: AXIS_COLOR}},
    axisLabel: {customValues: ticks, formatter: v => v.toFixed(2), color: LABEL_COLOR, fontSize: 13, fontFamily: FONT, margin: 7},
    splitLine: {show: false},
    name: xName, nameLocation: 'middle', nameGap: gap, nameMoveOverlap: false,
    nameTextStyle: {color: NAME_COLOR, fontSize: 17, fontFamily: FONT}
  };
}
function yAxisCfg(gi, min, max, ticks, gap) {
  return {
    gridIndex: gi, type: 'value', min: min, max: max, offset: 6,
    axisLine: {show: true, onZero: false, lineStyle: {color: AXIS_COLOR, width: 1}},
    axisTick: {show: true, length: 5, customValues: ticks, lineStyle: {color: AXIS_COLOR}},
    axisLabel: {customValues: ticks, formatter: v => v.toFixed(2), color: LABEL_COLOR, fontSize: 13, fontFamily: FONT, margin: 10},
    splitLine: {show: false},
    name: yName, nameLocation: 'middle', nameRotate: 90, nameGap: gap, nameMoveOverlap: false,
    nameTextStyle: {color: NAME_COLOR, fontSize: 17, fontFamily: FONT}
  };
}
function ellipseSeries(e, gi) {
  return {
    type: 'custom', xAxisIndex: gi, yAxisIndex: gi, silent: true, z: 2, clip: false,
    data: [[e[0], e[1]]],
    renderItem: function (params, api) {
      const pts = [];
      for (let i = 0; i <= 180; i++) {
        const t = i / 180 * 2 * Math.PI;
        pts.push(api.coord([e[0] + e[2] * Math.cos(t), e[1] + e[3] * Math.sin(t)]));
      }
      return {type: 'polyline', shape: {points: pts}, style: {stroke: '#2b2b2b', lineWidth: 1.3, fill: null}};
    }
  };
}
function lineSeries(gi, data, color, width, dash, z) {
  return {
    type: 'line', xAxisIndex: gi, yAxisIndex: gi, data: data, symbol: 'none', silent: true, z: z,
    lineStyle: {color: color, width: width, type: dash}, animation: false
  };
}
function scatterSeries(gi, data) {
  return {
    type: 'scatter', xAxisIndex: gi, yAxisIndex: gi, data: data, symbolSize: 7, z: 3, silent: true,
    itemStyle: {color: DOT_COLOR, opacity: 1}, animation: false, large: false
  };
}

const cX = [chinaXTicks[0], chinaXTicks[chinaXTicks.length - 1]];
const cY = [chinaYTicks[0], chinaYTicks[chinaYTicks.length - 1]];
const uX = [usXTicks[0], usXTicks[usXTicks.length - 1]];
const uY = [usYTicks[0], usYTicks[usYTicks.length - 1]];

chart.setOption({
  animation: false,
  backgroundColor: '#fff',
  grid: [
    {left: 124, right: 19, top: 89, height: 491},
    {left: 124, right: 99, top: 761, height: 455}
  ],
  xAxis: [xAxisCfg(0, cX[0], cX[1], chinaXTicks, 33), xAxisCfg(1, uX[0], uX[1], usXTicks, 30)],
  yAxis: [yAxisCfg(0, cY[0], cY[1], chinaYTicks, 80), yAxisCfg(1, uY[0], uY[1], usYTicks, 82)],
  series: [
    lineSeries(0, [[cX[0], 0], [cX[1], 0]], '#b0b0b0', 1, [6, 4], 1),
    lineSeries(0, [[0, cY[0]], [0, cY[1]]], '#a0a0a0', 1, [6, 4], 1),
    lineSeries(0, [[cY[0] / chinaWTP, cY[0]], [cX[1], chinaWTP * cX[1]]], '#111', 2.5, [13, 7], 4),
    ellipseSeries(chinaEllipse, 0),
    scatterSeries(0, chinaPoints),
    lineSeries(1, [[uX[0], 0], [uX[1], 0]], '#b0b0b0', 1, [6, 4], 1),
    lineSeries(1, [[uX[1], uY[0]], [uX[1], uY[1]]], '#a0a0a0', 1, [6, 4], 1),
    lineSeries(1, [[uY[0] / usWTP, uY[0]], [uX[1], usWTP * uX[1]]], '#111', 2.5, [13, 7], 4),
    ellipseSeries(usEllipse, 1),
    scatterSeries(1, usPoints)
  ]
});

function wtpLabel(gi, wtp, xd, text) {
  const p = chart.convertToPixel({gridIndex: gi}, [xd, wtp * xd]);
  const q = chart.convertToPixel({gridIndex: gi}, [xd + 0.1, wtp * (xd + 0.1)]);
  const ang = Math.atan2(p[1] - q[1], q[0] - p[0]);
  const off = 6;
  return {
    type: 'text', x: p[0] - Math.sin(ang) * off, y: p[1] - Math.cos(ang) * off, rotation: ang, z: 10,
    style: {text: text, x: 0, y: 0, align: 'center', verticalAlign: 'middle', fill: '#111', font: '19px ' + FONT}
  };
}

chart.setOption({
  graphic: [
    {type: 'text', x: 10, y: 21, style: {text: '(a)', fill: '#000', font: '31px ' + SERIF, verticalAlign: 'middle'}},
    {type: 'text', x: 53, y: 21, style: {text: 'China', fill: '#000', font: '31px ' + SERIF, verticalAlign: 'middle'}},
    {type: 'text', x: 548, y: 45, style: {text: titleText, fill: '#3a3a3a', font: '23.5px ' + FONT, align: 'center', verticalAlign: 'middle'}},
    {type: 'text', x: 10, y: 687, style: {text: '(b)', fill: '#000', font: '31px ' + SERIF, verticalAlign: 'middle'}},
    {type: 'text', x: 52, y: 687, style: {text: 'United States', fill: '#000', font: '31px ' + SERIF, verticalAlign: 'middle'}},
    {type: 'text', x: 508, y: 720, style: {text: titleText, fill: '#3a3a3a', font: '21.8px ' + FONT, align: 'center', verticalAlign: 'middle'}},
    wtpLabel(0, chinaWTP, -0.187, 'WTP = ' + chinaWTP.toFixed(1)),
    wtpLabel(1, usWTP, -0.777, 'WTP = ' + usWTP.toFixed(1))
  ]
});
</script>
</body></html>
